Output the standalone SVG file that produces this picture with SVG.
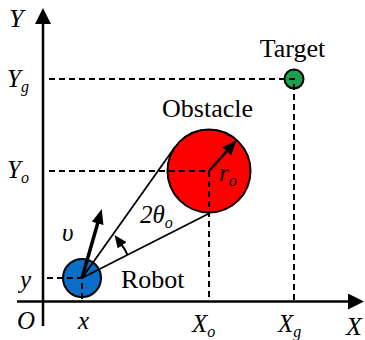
<svg xmlns="http://www.w3.org/2000/svg" width="365" height="340" viewBox="0 0 365 340">
<style>
.ax{stroke:#000;stroke-width:2.5;fill:none}
.dash{stroke:#000;stroke-width:2;stroke-dasharray:6,4;fill:none}
.ln{stroke:#000;stroke-width:1.8;fill:none}
.m{font-family:"Liberation Serif","Times New Roman",serif;font-style:italic;font-size:25px;fill:#000}
.big{font-size:26px}
.n{font-family:"Liberation Serif","Times New Roman",serif;font-size:26px;fill:#000}
.sub{font-size:16px}
.node{stroke:#000;stroke-width:2}
</style>
<defs>
<marker id="axh" markerUnits="userSpaceOnUse" markerWidth="16" markerHeight="16" refX="2" refY="8" orient="auto"><path d="M0,0 L16,8 L0,16 Z" fill="#000"/></marker>
<marker id="ah" markerUnits="userSpaceOnUse" markerWidth="15" markerHeight="12" refX="2" refY="6" orient="auto"><path d="M0,0 L15,6 L0,12 Z" fill="#000"/></marker>
<marker id="sh" markerUnits="userSpaceOnUse" markerWidth="13" markerHeight="11" refX="1" refY="5.5" orient="auto"><path d="M0,0 L13,5.5 L0,11 Z" fill="#000"/></marker>
</defs>
<g id="axes">
<line class="ax" x1="43" y1="326" x2="43" y2="22" marker-end="url(#axh)"/>
<line class="ax" x1="17" y1="301.5" x2="350" y2="301.5" marker-end="url(#axh)"/>
</g>
<g id="robot"><circle class="node" cx="82" cy="278" r="19" fill="#0a6ec8"/></g>
<g id="obstacle"><circle class="node" cx="209" cy="171" r="41.5" fill="#ff0000"/></g>
<g id="target"><circle class="node" cx="294" cy="79" r="9.5" fill="#1a9f4f"/></g>
<g id="guides">
<path class="dash" d="M49,79 H294 V300"/>
<path class="dash" d="M49,171 H209 V300"/>
<path class="dash" d="M47,278 H82 V300"/>
</g>
<g id="connectors">
<line class="ln" x1="82" y1="278" x2="175" y2="147"/>
<line class="ln" x1="82" y1="278" x2="210" y2="213"/>
<line stroke="#000" stroke-width="3.5" x1="82" y1="278" x2="98.2" y2="221.5" marker-end="url(#ah)"/>
<line stroke="#000" stroke-width="2.5" x1="209" y1="171" x2="228" y2="149.9" marker-end="url(#ah)"/>
<path stroke="#000" stroke-width="2" fill="none" d="M127.5,254.9 A51,51 0 0 0 121.6,244.6" marker-end="url(#sh)"/>
</g>
<g id="labels">
<text class="m big" x="9" y="27">Y</text>
<text class="m" x="7" y="87">Y<tspan class="sub" dy="5">g</tspan></text>
<text class="m" x="7" y="178">Y<tspan class="sub" dy="5">o</tspan></text>
<text class="m" x="20" y="288">y</text>
<text class="m" x="17" y="329">O</text>
<text class="m" x="78" y="329">x</text>
<text class="m" x="192" y="332">X<tspan class="sub" dy="5">o</tspan></text>
<text class="m" x="278" y="332">X<tspan class="sub" dy="5">g</tspan></text>
<text class="m big" x="346" y="335">X</text>
<text class="m" x="62" y="241">υ</text>
<text class="m" x="140" y="223">2θ<tspan class="sub" dy="5">o</tspan></text>
<text class="m" x="219" y="181">r<tspan class="sub" dy="5">o</tspan></text>
<text class="n" x="292.5" y="57" text-anchor="middle">Target</text>
<text class="n" x="207.5" y="116.5" text-anchor="middle">Obstacle</text>
<text class="n" x="121" y="288">Robot</text>
</g>
</svg>
